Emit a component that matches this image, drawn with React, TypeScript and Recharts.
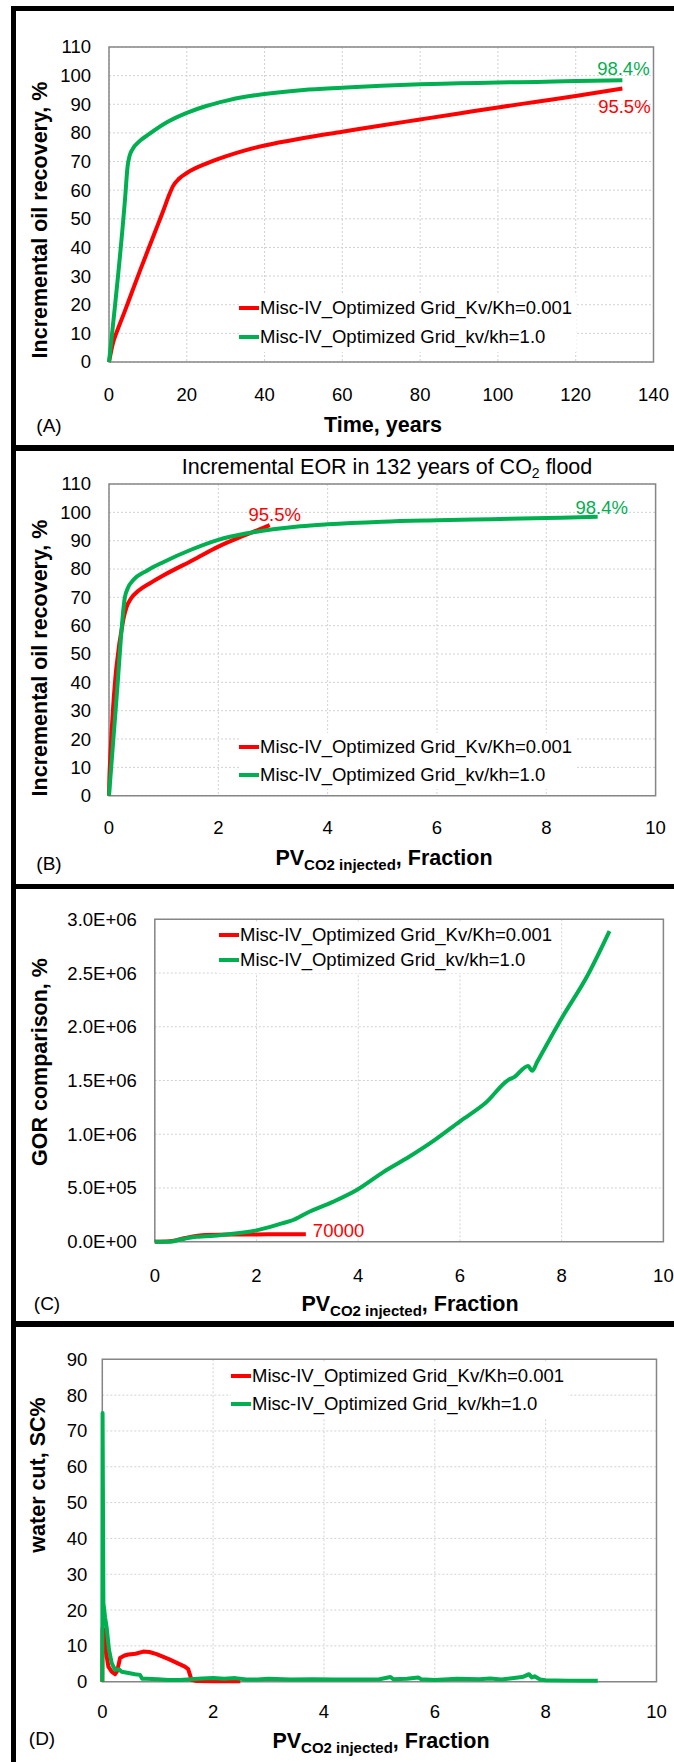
import React from "react";
import type { ReactNode } from "react";
import {
  LineChart,
  Line,
  XAxis,
  YAxis,
  CartesianGrid,
  ReferenceArea,
} from "recharts";

const FONT = '"Liberation Sans", Arial, Helvetica, sans-serif';
const RED = "#ff0000";
const GREEN = "#00b050";
const NAME_RED = "Misc-IV_Optimized Grid_Kv/Kh=0.001";
const NAME_GREEN = "Misc-IV_Optimized Grid_kv/kh=1.0";

// (A) incremental oil recovery vs time
const yearsRedA = [0, 1, 2, 4, 6, 8, 10, 12, 14, 15.5, 16.5, 18, 20, 25, 30, 35, 40, 50, 60, 70, 80, 90, 100, 110, 120, 132];
const recRedA = [0, 6.5, 10.5, 17.5, 24.8, 32, 39, 46, 53, 58.5, 61.5, 64, 66, 69.3, 71.8, 73.9, 75.6, 78.2, 80.4, 82.6, 84.7, 86.8, 88.9, 90.9, 92.9, 95.5];
const yearsGreenA = [0, 4.1, 4.8, 5.3, 6, 8, 10, 15, 20, 25, 30, 35, 40, 50, 60, 70, 80, 90, 100, 110, 120, 132];
const recGreenA = [0, 56.5, 68.5, 72, 74.2, 77.3, 79.3, 83.8, 87, 89.4, 91.2, 92.6, 93.6, 95, 95.8, 96.5, 97, 97.3, 97.6, 97.8, 98.1, 98.4];

// (B) incremental oil recovery vs injected pore volumes
const pvRedB = [0, 0.01, 0.26, 0.32, 0.4, 0.55, 0.75, 1, 1.54, 2, 2.5, 2.94];
const recRedB = [0, 8, 62, 66.5, 69.5, 72.5, 75, 77.8, 83.2, 87.9, 92, 95.5];
const pvGreenB = [0, 0.14, 0.29, 0.35, 0.44, 0.7, 1, 1.5, 2, 2.5, 3, 3.5, 4, 5, 6, 7, 8, 8.94];
const recGreenB = [0, 35, 70, 73.5, 76, 79.5, 82.5, 86.8, 90.3, 92.5, 94, 95.1, 95.8, 96.7, 97.2, 97.6, 98, 98.4];

// (C) GOR vs injected pore volumes
const pvRedC = [0, 0.3, 0.6, 1, 1.5, 2, 2.5, 2.97];
const gorRedC = [0, 5000, 35000, 62000, 68000, 68000, 69000, 70000];
const pvGreenC = [0, 0.3, 0.5, 0.82, 1, 1.5, 2, 2.5, 2.72, 3, 3.5, 3.97, 4.5, 5, 5.5, 6, 6.5, 6.97, 7.06, 7.34, 7.42, 7.52, 8, 8.5, 8.94];
const gorGreenC = [0, 0, 20000, 46000, 50000, 72000, 105000, 170000, 202000, 270000, 370000, 481000, 650000, 790000, 945000, 1120000, 1290000, 1511000, 1530000, 1635000, 1590000, 1675000, 2080000, 2470000, 2890000];

// (D) water cut vs injected pore volumes
const pvRedD = [0, 0.005, 0.05, 0.08, 0.11, 0.17, 0.23, 0.27, 0.32, 0.4, 0.47, 0.6, 0.74, 0.85, 0.98, 1.2, 1.49, 1.55, 1.61, 1.7, 2, 2.49];
const wcRedD = [0, 15, 13.5, 7, 4.2, 2.8, 2.1, 3, 6.6, 7.3, 7.6, 7.8, 8.4, 8.3, 7.7, 6.3, 4.2, 3.5, 0.5, 0.2, 0.1, 0.1];
const pvGreenD = [0, 0.005, 0.02, 0.05, 0.08, 0.12, 0.17, 0.23, 0.3, 0.35, 0.45, 0.59, 0.68, 0.72, 0.8, 1, 1.2, 1.4, 1.6, 1.8, 2, 2.2, 2.4, 2.6, 2.8, 3, 3.4, 3.8, 4.2, 4.6, 5, 5.2, 5.25, 5.5, 5.7, 5.75, 6, 6.4, 6.8, 7, 7.2, 7.5, 7.6, 7.7, 7.75, 7.8, 7.9, 8, 8.4, 8.94];
const wcGreenD = [0, 75, 22, 18, 15, 9, 5.2, 3.3, 3.5, 2.8, 2.5, 2.1, 1.9, 0.8, 0.8, 0.7, 0.5, 0.5, 0.7, 0.9, 1, 0.8, 1, 0.6, 0.6, 0.8, 0.6, 0.7, 0.6, 0.6, 0.7, 1.3, 0.7, 0.8, 1.2, 0.7, 0.5, 0.8, 0.7, 0.9, 0.6, 1.2, 1.4, 2.1, 1.2, 1.5, 0.6, 0.4, 0.3, 0.3];

const yearTicks = [0, 20, 40, 60, 80, 100, 120, 140];
const pvTicks = [0, 2, 4, 6, 8, 10];
const recTicks = [0, 10, 20, 30, 40, 50, 60, 70, 80, 90, 100, 110];
const gorTicks = [0, 500000, 1000000, 1500000, 2000000, 2500000, 3000000];
const wcTicks = [0, 10, 20, 30, 40, 50, 60, 70, 80, 90];

type Pt = { x: number; y: number };
const zip = (xs: number[], ys: number[]): Pt[] => xs.map((x, i) => ({ x, y: ys[i] }));

const CHART_W = 700;
const TICK_FS = 18.5;

type Series = {
  data: Pt[];
  color: string;
  endLabel?: { dx: number; dy: number; anchor: "start" | "middle"; fmt: (v: number) => string };
};

type PanelProps = {
  top: number;
  height: number;
  plot: { left: number; right: number; top: number; bottom: number };
  xTicks: number[];
  yTicks: number[];
  yFmt?: (v: number) => string;
  xGap: number;
  yGap: number;
  curve: "monotone" | "linear";
  series: Series[];
};

const Panel = ({ top, height, plot, xTicks, yTicks, yFmt, xGap, yGap, curve, series }: PanelProps) => {
  const xAxisH = 50;
  const margin = {
    top: plot.top - top,
    right: CHART_W - plot.right,
    bottom: height - (plot.bottom - top) - xAxisH,
    left: 0,
  };
  const xMin = xTicks[0];
  const xMax = xTicks[xTicks.length - 1];
  const yMin = yTicks[0];
  const yMax = yTicks[yTicks.length - 1];

  const xTick = (p: any) => (
    <text x={p.x} y={p.y} dy="0.35em" textAnchor="middle" fontSize={TICK_FS} fontFamily={FONT} fill="#000">
      {p.payload.value}
    </text>
  );
  const yTick = (p: any) => (
    <text x={p.x} y={p.y} dy="0.35em" textAnchor="end" fontSize={TICK_FS} fontFamily={FONT} fill="#000">
      {yFmt ? yFmt(p.payload.value) : p.payload.value}
    </text>
  );

  return (
    <div style={{ position: "absolute", left: 0, top }}>
      <LineChart width={CHART_W} height={height} margin={margin}>
        <CartesianGrid stroke="#d2d2d2" strokeDasharray="2 2" />
        <XAxis
          type="number"
          dataKey="x"
          domain={[xMin, xMax]}
          ticks={xTicks}
          interval={0}
          height={xAxisH}
          axisLine={false}
          tickLine={false}
          tickSize={0}
          tickMargin={xGap}
          tick={xTick}
        />
        <YAxis
          type="number"
          domain={[yMin, yMax]}
          ticks={yTicks}
          interval={0}
          width={plot.left}
          axisLine={false}
          tickLine={false}
          tickSize={0}
          tickMargin={yGap}
          tick={yTick}
        />
        <ReferenceArea x1={xMin} x2={xMax} y1={yMin} y2={yMax} fill="none" stroke="#868686" strokeWidth={1.5} />
        {series.map((s, i) => {
          const last = s.data.length - 1;
          const lab = s.endLabel;
          return (
            <Line
              key={i}
              data={s.data}
              dataKey="y"
              type={curve}
              stroke={s.color}
              strokeWidth={4}
              strokeLinejoin="round"
              dot={false}
              activeDot={false}
              isAnimationActive={false}
              label={
                lab
                  ? (p: any) =>
                      p.index === last ? (
                        <text
                          key="end"
                          x={p.x + lab.dx}
                          y={p.y + lab.dy}
                          dy="0.35em"
                          textAnchor={lab.anchor}
                          fontSize={TICK_FS}
                          fontFamily={FONT}
                          fill={s.color}
                        >
                          {lab.fmt(Number(p.value))}
                        </text>
                      ) : (
                        <g key={p.index} />
                      )
                  : false
              }
            />
          );
        })}
      </LineChart>
    </div>
  );
};

const At = ({ x, y, rotate, style, children }: { x: number; y: number; rotate?: boolean; style?: React.CSSProperties; children: ReactNode }) => (
  <div
    style={{
      position: "absolute",
      left: x,
      top: y,
      transform: `translate(-50%, -50%)${rotate ? " rotate(-90deg)" : ""}`,
      whiteSpace: "nowrap",
      lineHeight: 1,
      fontFamily: FONT,
      color: "#000",
      ...style,
    }}
  >
    {children}
  </div>
);

const AxisTitle = (props: { x: number; y: number; rotate?: boolean; children: ReactNode }) => (
  <At {...props} style={{ fontSize: 21.5, fontWeight: 700 }} />
);

const PvTitle = ({ x, y }: { x: number; y: number }) => (
  <AxisTitle x={x} y={y}>
    PV<span style={{ fontSize: 15, position: "relative", top: 5 }}>CO2 injected</span>, Fraction
  </AxisTitle>
);

const Tag = ({ x, y, children }: { x: number; y: number; children: ReactNode }) => (
  <At x={x} y={y} style={{ fontSize: 19 }}>{children}</At>
);

const Legend2 = ({ x, rows }: { x: number; rows: number[] }) => {
  const gap = rows[1] - rows[0];
  const items = [
    { name: NAME_RED, color: RED },
    { name: NAME_GREEN, color: GREEN },
  ];
  return (
    <div
      style={{
        position: "absolute",
        left: x,
        top: rows[0] - gap / 2,
        background: "#fff",
        paddingRight: 4,
        fontFamily: FONT,
        fontSize: TICK_FS,
      }}
    >
      {items.map((it) => (
        <div key={it.name} style={{ height: gap, display: "flex", alignItems: "center", whiteSpace: "nowrap" }}>
          <span style={{ width: 20, height: 4, background: it.color, marginRight: 1, display: "inline-block" }} />
          <span style={{ lineHeight: 1 }}>{it.name}</span>
        </div>
      ))}
    </div>
  );
};

const pct = (v: number) => `${v.toFixed(1)}%`;
const sci = (v: number) => {
  const [m, e] = v.toExponential(1).split("e");
  const n = Math.abs(Number(e));
  return `${m}E${Number(e) < 0 ? "-" : "+"}${String(n).padStart(2, "0")}`;
};

const Bar = ({ x, y, w, h }: { x: number; y: number; w: number; h: number }) => (
  <div style={{ position: "absolute", left: x, top: y, width: w, height: h, background: "#000" }} />
);

export default function App() {
  return (
    <div
      style={{
        position: "absolute",
        left: 0,
        top: 0,
        width: 674,
        height: 1762,
        overflow: "hidden",
        background: "#fff",
      }}
    >
      {/* (A) recovery vs time */}
      <Panel
        top={0}
        height={445}
        plot={{ left: 109, right: 653.5, top: 47, bottom: 362 }}
        xTicks={yearTicks}
        yTicks={recTicks}
        xGap={33}
        yGap={18}
        curve="monotone"
        series={[
          { data: zip(yearsRedA, recRedA), color: RED, endLabel: { dx: 2, dy: 18, anchor: "middle", fmt: pct } },
          { data: zip(yearsGreenA, recGreenA), color: GREEN, endLabel: { dx: 1, dy: -12, anchor: "middle", fmt: pct } },
        ]}
      />
      <AxisTitle x={41} y={220} rotate>Incremental oil recovery, %</AxisTitle>
      <AxisTitle x={383} y={426}>Time, years</AxisTitle>
      <Tag x={49} y={425}>(A)</Tag>
      <Legend2 x={239} rows={[308, 337]} />

      {/* (B) recovery vs PV injected */}
      <Panel
        top={450}
        height={434}
        plot={{ left: 109, right: 655.6, top: 484, bottom: 795.7 }}
        xTicks={pvTicks}
        yTicks={recTicks}
        xGap={32}
        yGap={18}
        curve="monotone"
        series={[
          { data: zip(pvRedB, recRedB), color: RED, endLabel: { dx: 5, dy: -11, anchor: "middle", fmt: pct } },
          { data: zip(pvGreenB, recGreenB), color: GREEN, endLabel: { dx: 4, dy: -9, anchor: "middle", fmt: pct } },
        ]}
      />
      <At x={387} y={468} style={{ fontSize: 21.5 }}>
        Incremental EOR in 132 years of CO<span style={{ fontSize: 14, position: "relative", top: 4 }}>2</span> flood
      </At>
      <AxisTitle x={41} y={658} rotate>Incremental oil recovery, %</AxisTitle>
      <PvTitle x={384} y={859} />
      <Tag x={49} y={863}>(B)</Tag>
      <Legend2 x={239} rows={[747, 775]} />

      {/* (C) GOR vs PV injected */}
      <Panel
        top={889}
        height={432}
        plot={{ left: 154.8, right: 663.4, top: 919.3, bottom: 1241.7 }}
        xTicks={pvTicks}
        yTicks={gorTicks}
        yFmt={sci}
        xGap={34}
        yGap={18}
        curve="monotone"
        series={[
          { data: zip(pvRedC, gorRedC), color: RED, endLabel: { dx: 7, dy: -4, anchor: "start", fmt: (v) => String(v) } },
          { data: zip(pvGreenC, gorGreenC), color: GREEN },
        ]}
      />
      <AxisTitle x={41} y={1062} rotate>GOR comparison, %</AxisTitle>
      <PvTitle x={410} y={1305} />
      <Tag x={47} y={1303}>(C)</Tag>
      <Legend2 x={219} rows={[935, 960]} />

      {/* (D) water cut vs PV injected */}
      <Panel
        top={1327}
        height={435}
        plot={{ left: 102.3, right: 656.5, top: 1359.3, bottom: 1681.7 }}
        xTicks={pvTicks}
        yTicks={wcTicks}
        xGap={30}
        yGap={15}
        curve="linear"
        series={[
          { data: zip(pvRedD, wcRedD), color: RED },
          { data: zip(pvGreenD, wcGreenD), color: GREEN },
        ]}
      />
      <AxisTitle x={39} y={1475} rotate>water cut, SC%</AxisTitle>
      <PvTitle x={381} y={1742} />
      <Tag x={42} y={1738}>(D)</Tag>
      <Legend2 x={231} rows={[1376, 1404]} />

      {/* panel frames */}
      <Bar x={11} y={6} w={663} h={5} />
      <Bar x={11} y={6} w={5} h={1756} />
      <Bar x={11} y={445} w={663} h={5.5} />
      <Bar x={11} y={884} w={663} h={5} />
      <Bar x={11} y={1321} w={663} h={5.5} />
    </div>
  );
}
